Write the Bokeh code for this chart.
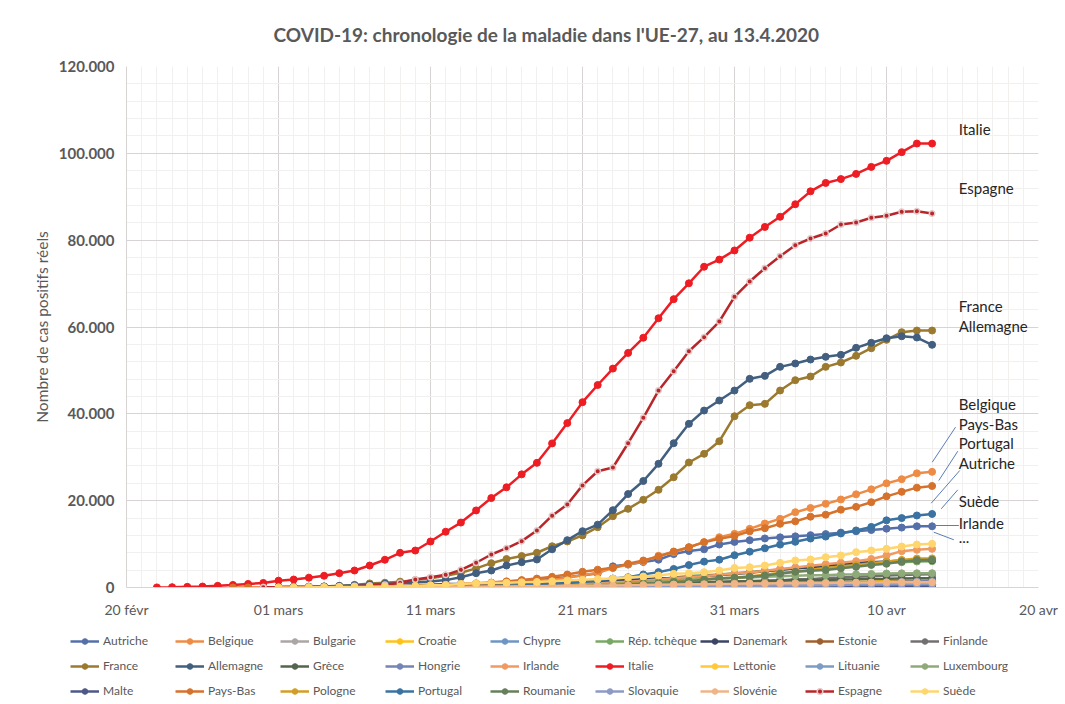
import pandas as pd
from bokeh.plotting import figure
from bokeh.layouts import column
from bokeh.models import (Range1d, FixedTicker, SingleIntervalTicker, CustomJSTickFormatter,
                          Legend, LegendItem, Label, ColumnDataSource)
from bokeh.embed import file_html
from bokeh.resources import INLINE

# ---------------- données (cas positifs réels, dernier point = 13.4.2020) ----------------
FIN = "2020-04-13"

pays = ["Autriche", "Belgique", "Bulgarie", "Croatie", "Chypre", "Rép. tchèque", "Danemark", "Estonie", "Finlande",
        "France", "Allemagne", "Grèce", "Hongrie", "Irlande", "Italie", "Lettonie", "Lituanie", "Luxembourg",
        "Malte", "Pays-Bas", "Pologne", "Portugal", "Roumanie", "Slovaquie", "Slovénie", "Espagne", "Suède"]

couleurs = ["#5570A8", "#EE8C45", "#ABA6A4", "#FFC21A", "#6C96C6", "#78A866", "#3B4565", "#A0602E", "#737070",
            "#9B7A30", "#425F80", "#53654A", "#7384B5", "#F09A62", "#EE1D23", "#FFC93A", "#7C9CC6", "#8EAA78",
            "#4D5886", "#D6722C", "#D39E25", "#3A72A2", "#66805A", "#8C9AC4", "#F0B486", "#B8262A", "#FFD56E"]

autriche = [10, 14, 18, 24, 41, 55, 79, 104, 131, 182, 246, 302, 504, 655, 860, 1016, 1332, 1646, 2013, 2388, 2814,
            3244, 4876, 5282, 5888, 6400, 7700, 8400, 8800, 9900, 10500,
            10900, 11300, 11550, 11780, 12050, 12300, 12640, 12940, 13240, 13550, 13800, 14100, 14100]
belgique = [2, 8, 13, 23, 50, 109, 169, 200, 239, 267, 314, 399, 559, 689, 886, 1058, 1243, 1486, 1795, 2257, 2815,
            3401, 4500, 5300, 6000, 7300, 8130, 9280, 10440, 11590, 12360,
            13510, 14730, 15810, 17350, 18310, 19270, 20270, 21460, 22610, 23990, 24950, 26300, 26640]
bulgarie = [4, 4, 6, 7, 23, 31, 41, 51, 52, 67, 92, 94, 127, 163, 187, 201, 218, 242, 264, 293, 331, 346, 359, 399,
            422, 457, 485, 503, 531, 549, 577, 593, 618, 635, 661, 675, 685]
croatie = [7, 8, 9, 10, 11, 11, 12, 12, 12, 13, 14, 19, 32, 38, 49, 57, 65, 81, 105, 128, 206, 254, 315, 382, 442,
           495, 586, 657, 713, 790, 867,
           963, 1011, 1079, 1126, 1182, 1222, 1282, 1343, 1407, 1495, 1534, 1600, 1650]
chypre = [2, 3, 6, 14, 26, 26, 33, 46, 49, 67, 75, 84, 95, 116, 124, 146, 162, 179, 214, 230, 262, 320,
          356, 396, 426, 446, 465, 494, 526, 564, 595, 616, 633, 662, 695]
tcheque = [3, 3, 5, 8, 12, 19, 26, 32, 38, 63, 94, 116, 141, 189, 298, 383, 450, 560, 765, 889, 1047, 1161, 1287,
           1497, 1654, 1925, 2279, 2631, 2817, 3001, 3308,
           3589, 3858, 4091, 4472, 4587, 4822, 5017, 5312, 5569, 5732, 5831, 5991, 6059]
danemark = [4, 4, 6, 10, 23, 23, 35, 90, 262, 442, 615, 801, 827, 864, 914, 977, 1057, 1151, 1255, 1326, 1395,
            1450, 1591, 1724, 1877, 2046, 2201, 2395, 2577, 2860, 3107,
            3386, 3757, 4077, 4369, 4681, 5071, 5402, 5635, 5819, 5996, 6191, 6318, 6318]
estonie = [1, 1, 2, 2, 3, 10, 10, 10, 10, 13, 16, 27, 79, 115, 171, 205, 225, 258, 267, 283, 306, 326, 352, 369,
           404, 538, 575, 645, 679, 715, 745,
           779, 858, 961, 1039, 1097, 1108, 1149, 1185, 1207, 1258, 1304, 1309, 1332]
finlande = [3, 6, 6, 7, 12, 15, 19, 23, 30, 40, 59, 109, 155, 210, 244, 277, 321, 336, 400, 450, 523, 626, 700,
            792, 880, 958, 1041, 1167, 1240, 1352, 1418,
            1446, 1518, 1615, 1882, 1927, 2176, 2308, 2487, 2605, 2769, 2905, 2974, 3064]
france = [100, 160, 180, 250, 380, 600, 950, 1100, 1350, 1700, 2150, 2700, 3400, 4400, 5600, 6550, 7250, 8000,
          9500, 10600, 12000, 13890, 16420, 18120, 20200, 22500, 25400, 28790, 30790, 33690, 39450,
          41990, 42300, 45370, 47750, 48600, 50820, 51820, 53360, 55110, 57040, 58800, 59190, 59190]
allemagne = [110, 140, 180, 240, 350, 520, 680, 850, 1000, 1150, 1400, 1700, 2380, 3300, 3915, 5070, 5830, 6450,
             8800, 10900, 12970, 14470, 17800, 21530, 24530, 28490, 33230, 37700, 40760, 43070, 45370,
             48060, 48750, 50820, 51590, 52510, 53130, 53590, 55200, 56360, 57410, 57870, 57580, 55900]
grece = [7, 7, 7, 9, 31, 45, 46, 73, 73, 89, 99, 99, 190, 228, 331, 331, 387, 418, 418, 495, 530, 624, 695, 743,
         821, 892, 966, 1061, 1156, 1212, 1314,
         1415, 1544, 1613, 1673, 1735, 1755, 1832, 1884, 1955, 2011, 2081, 2114, 2145]
hongrie = [2, 2, 4, 7, 9, 9, 12, 13, 16, 19, 30, 32, 39, 50, 58, 73, 85, 103, 131, 167, 187, 226, 261, 300, 343,
           408, 447, 492,
           525, 585, 623, 678, 733, 744, 817, 895, 980, 1190, 1310, 1410, 1458]
irlande = [1, 1, 2, 6, 13, 18, 19, 21, 24, 34, 43, 70, 90, 129, 169, 223, 292, 366, 557, 683, 785, 906, 1125,
           1329, 1564, 1819, 2121, 2415, 2615, 2910, 3235,
           3447, 3849, 4273, 4604, 4994, 5364, 5709, 6074, 6574, 7370, 8370, 8670, 8900]
italie = [20, 79, 150, 221, 385, 588, 821, 1049,
          1577, 1835, 2263, 2706, 3296, 3916, 5061, 6387, 7985, 8514, 10590, 12839, 14955, 17750, 20603, 23073,
          26062, 28710, 33190, 37860, 42681, 46638, 50418, 54030, 57521, 62013, 66414, 70065, 73880, 75528, 77635,
          80572, 83049, 85388, 88274, 91246, 93187, 94067, 95262, 96877, 98273, 100269, 102253, 102253]
lettonie = [1, 1, 1, 1, 2, 3, 6, 8, 10, 16, 17, 26, 30, 34, 49, 71, 86, 111, 124, 139, 180, 197, 221, 244, 280,
            305, 347, 376, 398,
            446, 458, 493, 509, 533, 542, 548, 577, 589, 612, 630, 651, 655]
lituanie = [1, 1, 1, 1, 1, 1, 1, 1, 1, 2, 3, 6, 8, 12, 17, 25, 27, 36, 49, 83, 143, 179, 209, 274, 299, 358, 394,
            460, 491, 537, 581,
            662, 696, 771, 811, 843, 880, 912, 955, 999, 1026, 1053, 1070, 1091]
luxembourg = [0, 1, 1, 1, 2, 3, 4, 5, 5, 7, 7, 26, 38, 51, 59, 81, 140, 203, 335, 484, 670, 798, 875, 1099, 1333,
              1453, 1605, 1831, 1950, 1988, 2178,
              2319, 2487, 2612, 2729, 2804, 2843, 2970, 3034, 3115, 3223, 3270, 3281, 3292]
malte = [1, 3, 4, 5, 6, 12, 18, 21, 30, 38, 48, 53, 64, 73, 90, 107, 110, 129, 134, 139, 149, 151, 156, 167, 174,
         188, 196, 202, 213, 227, 241, 293, 299, 337, 350, 370, 378, 384]
pays_bas = [1, 2, 7,
            10, 18, 24, 38, 82, 128, 188, 265, 321, 382, 503, 614, 804, 959, 1135, 1413, 1705, 2051, 2460, 2994,
            3631, 4100, 4530, 5450, 6220, 7140, 8290, 9280, 10440, 11200, 11860,
            12930, 13660, 14660, 15240, 16310, 16770, 17920, 18570, 19650, 21000, 22030, 23000, 23380]
pologne = [1, 1, 5, 5, 11, 16, 22, 31, 49, 68, 103, 119, 177, 238, 251, 355, 425, 536, 634, 749, 901, 1051, 1221,
           1389, 1638, 1862, 2055, 2311,
           2554, 2946, 3383, 3627, 4102, 4413, 4848, 5205, 5575, 5955, 6356, 6674, 6700]
portugal = [2, 4, 6, 9, 13, 21, 30, 39, 41, 59, 78, 112, 169, 245, 331, 448, 642, 785, 1020, 1280, 1600, 2060,
            2362, 2995, 3544, 4268, 5170, 5962, 6408, 7443,
            8251, 9034, 9886, 10524, 11278, 11730, 12442, 13141, 13956, 15472, 15987, 16585, 16934]
roumanie = [3, 3, 3, 4, 6, 9, 9, 15, 15, 25, 45, 49, 89, 123, 131, 158, 184, 260, 277, 308, 367, 433, 576, 762,
            906, 1029, 1292, 1452, 1815, 2109, 2245,
            2460, 2738, 3183, 3613, 3864, 4057, 4417, 4761, 5202, 5467, 5990, 6300, 6400]
slovaquie = [1, 3, 5, 7, 10, 21, 32, 44, 54, 63, 72, 105, 123, 137, 178, 185, 191, 204, 216, 226, 269, 292, 314,
             336, 363,
             400, 426, 450, 471, 485, 534, 581, 682, 701, 715, 728, 742, 769]
slovenie = [2, 8, 12, 16, 25, 34, 57, 89, 141, 181, 219, 253, 275, 286, 341, 383, 414, 442, 480, 528, 562, 632,
            684, 730, 756, 802, 841,
            897, 934, 977, 997, 1021, 1059, 1091, 1124, 1160, 1188, 1205, 1212, 1220]
espagne = [30,
           70, 110, 150, 200, 250, 350, 480, 620, 1100, 1840, 2380, 2920, 4070, 5700, 7600, 9050, 10680, 13140,
           16540, 19110, 23520, 26780, 27640, 33230, 39080, 45370, 49820, 54420, 57650, 61260, 66950,
           70470, 73540, 76300, 78840, 80380, 81530, 83600, 84070, 85150, 85610, 86530, 86680, 86140]
suede = [14, 15, 30, 52, 94, 137, 161, 203, 248, 355, 500, 599, 814, 961, 1022, 1103, 1190, 1279, 1439, 1639, 1763,
         1934, 2046, 2286, 2526, 2760, 3150, 3300, 3530, 3915, 4500,
         4680, 5070, 5680, 6220, 6450, 6990, 7370, 8140, 8520, 8900, 9440, 9900, 10060]

valeurs = [autriche, belgique, bulgarie, croatie, chypre, tcheque, danemark, estonie, finlande,
           france, allemagne, grece, hongrie, irlande, italie, lettonie, lituanie, luxembourg,
           malte, pays_bas, pologne, portugal, roumanie, slovaquie, slovenie, espagne, suede]

# axe des x
x_min, x_max = "2020-02-20", "2020-04-20"
ticks_x = ["2020-02-20", "2020-03-01", "2020-03-11", "2020-03-21", "2020-03-31", "2020-04-10", "2020-04-20"]

# étiquettes à droite (jours après le 20 févr, valeur)
annot_textes = ["Italie", "Espagne", "France", "Allemagne", "Belgique", "Pays-Bas", "Portugal", "Autriche",
                "Suède", "Irlande", "..."]
annot_jours = [54.75] * 11
annot_y = [105700, 92100, 64950, 60340, 42380, 37770, 33390, 28790, 19810, 14970, 11500]
lien_x0 = [54.54, 54.69, 54.82, 54.69, 53.11, 53.11]
lien_y0 = [36920, 31390, 26945, 22500, 14280, 12740]
lien_x1 = [53.01, 53.44, 52.94, 53.60, 54.76, 54.43]
lien_y1 = [28860, 24640, 19410, 18120, 14280, 10990]

# ---------------- style ----------------
FONT = "Lato"
GRIS = "#595959"
GRILLE = "#D9D4D4"
GRILLE_MIN = "#F2EFEF"


def ms(d):
    return pd.Timestamp(d).value / 1e6


def jour(j):
    return ms(x_min) + j * 86400000.0


W, H, H_LEG = 1065, 620, 84
p = figure(width=W, height=H, x_axis_type="datetime", output_backend="svg", toolbar_location=None,
           x_range=Range1d(ms(x_min), ms(x_max)), y_range=Range1d(0, 120000),
           min_border_left=126, min_border_right=27, min_border_top=66, min_border_bottom=33,
           title="COVID-19: chronologie de la maladie dans l'UE-27, au 13.4.2020")
p.outline_line_color = None
p.background_fill_color = "white"
p.border_fill_color = "white"

p.title.align = "left"
p.title.offset = 147
p.title.vertical_align = "middle"
p.title.standoff = 40
p.title.text_font = FONT
p.title.text_font_size = "19px"
p.title.text_font_style = "bold"
p.title.text_color = GRIS

xt = FixedTicker(ticks=[ms(d) for d in ticks_x],
                 minor_ticks=[ms(d) for d in pd.date_range(x_min, x_max)])
p.xaxis.ticker = xt
p.xaxis.formatter = CustomJSTickFormatter(code="""
const m = ["janv","févr","mars","avr","mai","juin","juil","août","sept","oct","nov","déc"];
const d = new Date(tick);
const j = d.getUTCDate();
return (j < 10 ? "0" + j : "" + j) + " " + m[d.getUTCMonth()];
""")
p.yaxis.ticker = SingleIntervalTicker(interval=20000, num_minor_ticks=5)
p.yaxis.formatter = CustomJSTickFormatter(code=r"""
return Math.round(tick).toString().replace(/\B(?=(\d{3})+(?!\d))/g, ".");
""")

for ax in (p.xaxis, p.yaxis):
    ax.axis_line_color = GRILLE
    ax.major_tick_line_color = None
    ax.minor_tick_line_color = None
    ax.major_tick_out = 0
    ax.major_tick_in = 0
    ax.minor_tick_out = 0
    ax.minor_tick_in = 0
    ax.major_label_text_font = FONT
    ax.major_label_text_color = GRIS

p.xaxis.major_label_text_font_size = "14px"
p.xaxis.major_label_standoff = 13
p.yaxis.major_label_text_font_size = "15px"
p.yaxis.major_label_text_font_style = "bold"
p.yaxis.major_label_standoff = 12
p.yaxis.axis_label = "Nombre de cas positifs réels"
p.yaxis.axis_label_text_font = FONT
p.yaxis.axis_label_text_font_style = "normal"
p.yaxis.axis_label_text_font_size = "15.5px"
p.yaxis.axis_label_text_color = GRIS
p.yaxis.axis_label_standoff = 5

for g in (p.xgrid, p.ygrid):
    g.grid_line_color = GRILLE
    g.grid_line_width = 1
    g.minor_grid_line_color = GRILLE_MIN
    g.minor_grid_line_width = 1

# ---------------- figure de légende ----------------
q = figure(width=W, height=H_LEG, output_backend="svg", toolbar_location=None,
           x_range=Range1d(0, W), y_range=Range1d(0, H_LEG),
           min_border_left=0, min_border_right=0, min_border_top=0, min_border_bottom=0)
q.axis.visible = False
q.grid.visible = False
q.outline_line_color = None
q.background_fill_color = "white"
q.border_fill_color = "white"
if "frame_align" in q.properties():
    q.frame_align = False
    p.frame_align = False


def styles(nom, c):
    if nom == "Espagne":
        return dict(size=5.5, fill_color=c, line_color="#E3CACA", line_width=1.5)
    return dict(size=7, fill_color=c, line_color=c, line_width=1)


# ---------------- séries ----------------
items = []
for nom, c, vals in zip(pays, couleurs, valeurs):
    dates = pd.date_range(end=FIN, periods=len(vals))
    src = ColumnDataSource(dict(x=dates, y=vals))
    p.line("x", "y", source=src, line_color=c, line_width=2.5)
    p.scatter("x", "y", source=src, **styles(nom, c))
    # mêmes styles dans la figure de légende (un point hors du cadre, pour l'icône)
    hors = ColumnDataSource(dict(x=[-1000], y=[-1000]))
    lq = q.line("x", "y", source=hors, line_color=c, line_width=2.5)
    sq = q.scatter("x", "y", source=hors, **styles(nom, c))
    items.append(LegendItem(label=nom, renderers=[lq, sq]))

# 3 rangées de 9
for r in range(3):
    lg = Legend(items=items[r * 9:(r + 1) * 9], orientation="horizontal",
                location=(70, 56 - 25 * r),
                glyph_width=29, glyph_height=14, label_standoff=4, label_width=72, label_height=14,
                spacing=0, padding=0, margin=0, border_line_color=None, background_fill_alpha=0,
                label_text_font=FONT, label_text_font_size="12px", label_text_color=GRIS)
    q.add_layout(lg)

# ---------------- étiquettes à droite ----------------
for t, j, v in zip(annot_textes, annot_jours, annot_y):
    p.add_layout(Label(x=jour(j), y=v, text=t, text_font=FONT, text_font_size="15px",
                       text_color="#262626", text_baseline="middle", text_align="left"))
p.segment(x0=[jour(j) for j in lien_x0], y0=lien_y0, x1=[jour(j) for j in lien_x1], y1=lien_y1,
          line_color="#5B7DB5", line_width=1)

mise_en_page = column(p, q, spacing=0)
open("out.html", "w").write(file_html(mise_en_page, INLINE, "COVID-19"))
